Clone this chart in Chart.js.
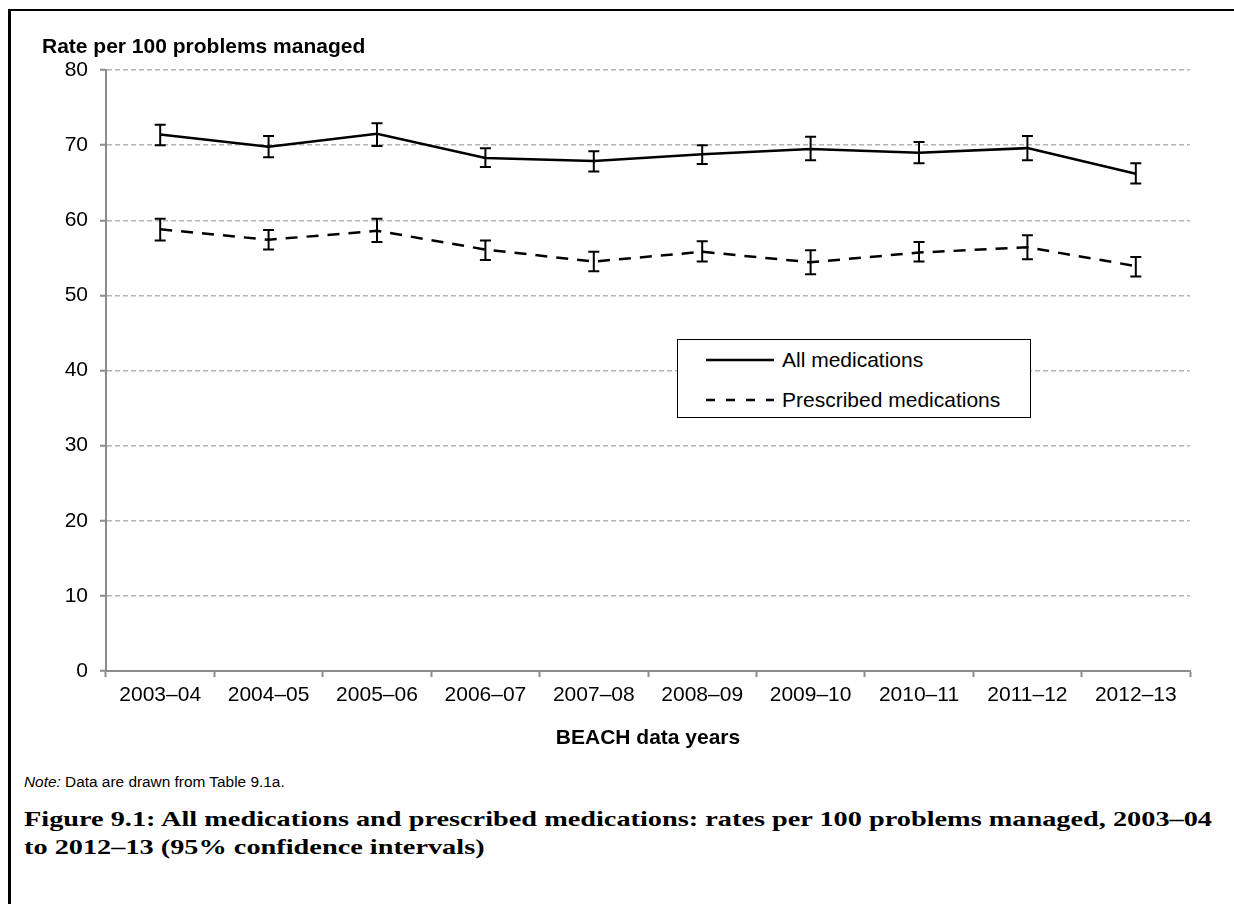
<!DOCTYPE html>
<html>
<head>
<meta charset="utf-8">
<script src="https://cdn.jsdelivr.net/npm/chart.js@4/dist/chart.umd.min.js"></script>
<style>
  html, body { margin: 0; padding: 0; background: #fff; }
  body { width: 1234px; height: 904px; position: relative; overflow: hidden; font-family: "Liberation Sans", Arial, sans-serif; }
  #frame { position: absolute; left: 8px; top: 9px; width: 1300px; height: 1000px; border-left: 3px solid #000; border-top: 2px solid #000; box-sizing: border-box; }
  #wrap { position: absolute; left: 0; top: 0; width: 1234px; height: 770px; }
  #ytitle { position: absolute; left: 42px; top: 35px; font-weight: bold; font-size: 21px; line-height: 21px; color: #000; white-space: nowrap; }
  #legend { position: absolute; left: 677px; top: 339px; width: 354px; height: 79px; border: 1.5px solid #000; box-sizing: border-box; background: #fff; }
  .lrow { position: absolute; left: 0; height: 30px; display: flex; align-items: center; font-size: 21px; color: #000; white-space: nowrap; }
  .lrow svg { margin-left: 28px; margin-right: 8px; }
  #note { position: absolute; left: 24px; top: 774px; font-size: 15.4px; line-height: 15px; color: #000; white-space: nowrap; }
  .cap { position: absolute; left: 24px; font-family: "Liberation Serif", "DejaVu Serif", serif; font-weight: bold; font-size: 22px; line-height: 28px; color: #000; white-space: nowrap; transform-origin: 0 0; }
</style>
</head>
<body>
<div id="frame"></div>
<div id="wrap"><canvas id="c" width="1234" height="770"></canvas></div>
<div id="ytitle">Rate per 100 problems managed</div>
<div id="legend"></div>
<div id="note"><i>Note:</i> Data are drawn from Table 9.1a.</div>
<div class="cap" id="cap1" style="top:805px">Figure 9.1: All medications and prescribed medications: rates per 100 problems managed, 2003–04</div>
<div class="cap" id="cap2" style="top:833px">to 2012–13 (95% confidence intervals)</div>
<script>
const years = ['2003–04','2004–05','2005–06','2006–07','2007–08','2008–09','2009–10','2010–11','2011–12','2012–13'];
const allMedications = [71.4, 69.8, 71.5, 68.3, 67.9, 68.8, 69.5, 69.0, 69.6, 66.2];
const allLower       = [70.0, 68.4, 69.9, 67.1, 66.5, 67.5, 68.0, 67.6, 68.0, 64.9];
const allUpper       = [72.7, 71.2, 72.9, 69.6, 69.2, 70.0, 71.1, 70.4, 71.2, 67.6];
const prescribed     = [58.8, 57.4, 58.6, 56.1, 54.5, 55.8, 54.4, 55.7, 56.4, 53.9];
const prescLower     = [57.3, 56.1, 57.1, 54.7, 53.2, 54.5, 52.8, 54.5, 54.8, 52.5];
const prescUpper     = [60.2, 58.7, 60.2, 57.3, 55.8, 57.2, 56.0, 57.1, 58.0, 55.1];
const seriesLabels   = ['All medications', 'Prescribed medications'];
const yTicks = [0, 10, 20, 30, 40, 50, 60, 70, 80];

const FONT = '"Liberation Sans", Arial, sans-serif';

const errorBars = {
  id: 'errorBars',
  afterDatasetsDraw(chart) {
    const {ctx, scales: {x, y}} = chart;
    ctx.save();
    ctx.strokeStyle = '#000';
    ctx.lineWidth = 2;
    ctx.setLineDash([]);
    chart.data.datasets.forEach(ds => {
      ds.lower.forEach((lo, i) => {
        const px = x.getPixelForValue(i);
        const yl = y.getPixelForValue(lo);
        const yh = y.getPixelForValue(ds.upper[i]);
        const cw = 5.5;
        ctx.beginPath();
        ctx.moveTo(px, yl); ctx.lineTo(px, yh);
        ctx.moveTo(px - cw, yl); ctx.lineTo(px + cw, yl);
        ctx.moveTo(px - cw, yh); ctx.lineTo(px + cw, yh);
        ctx.stroke();
      });
    });
    ctx.restore();
  }
};

const chart = new Chart(document.getElementById('c'), {
  type: 'line',
  data: {
    labels: years,
    datasets: [
      { label: seriesLabels[0], data: allMedications, lower: allLower, upper: allUpper,
        borderColor: '#000', borderWidth: 2.5, pointRadius: 0, tension: 0, fill: false },
      { label: seriesLabels[1], data: prescribed, lower: prescLower, upper: prescUpper,
        borderColor: '#000', borderWidth: 2.5, borderDash: [12, 9], pointRadius: 0, tension: 0, fill: false }
    ]
  },
  options: {
    responsive: false,
    animation: false,
    events: [],
    layout: { padding: { left: 0, top: 70, right: 44, bottom: 19 } },
    plugins: { legend: { display: false }, tooltip: { enabled: false }, title: { display: false } },
    scales: {
      x: {
        type: 'category',
        offset: true,
        grid: { offset: true, drawOnChartArea: false, tickLength: 6, tickColor: '#8c8c8c', tickWidth: 2 },
        border: { display: true, color: '#8c8c8c', width: 2 },
        ticks: { color: '#000', font: { family: FONT, size: 21 }, padding: 6, maxRotation: 0, autoSkip: false },
        title: { display: true, text: 'BEACH data years', color: '#000', font: { family: FONT, size: 21, weight: 'bold' }, padding: { top: 0, bottom: 0 } },
        afterFit(s) { s.height = 80; }
      },
      y: {
        min: 0, max: 80,
        afterBuildTicks(s) { s.ticks = yTicks.map(v => ({ value: v })); },
        grid: { color: '#b4b4b4', lineWidth: 1.5, tickLength: 6, tickColor: '#8c8c8c', tickWidth: 2 },
        border: { display: true, color: '#8c8c8c', width: 2, dash: [5, 3] },
        ticks: { color: '#000', font: { family: FONT, size: 21 }, padding: 12 },
        afterFit(s) { s.width = 106; }
      }
    }
  },
  plugins: [errorBars]
});

// legend built from the dataset labels
const legend = document.getElementById('legend');
chart.data.datasets.forEach((ds, i) => {
  const row = document.createElement('div');
  row.className = 'lrow';
  row.style.top = (i === 0 ? 5 : 45) + 'px';
  const dash = ds.borderDash ? 'stroke-dasharray="9 11"' : '';
  row.innerHTML = '<svg width="68" height="6"><line x1="0" y1="3" x2="68" y2="3" stroke="#000" stroke-width="2.5" ' + dash + '/></svg><span>' + ds.label + '</span>';
  legend.appendChild(row);
});

// fit caption line 1 to the reference width
const cap1 = document.getElementById('cap1');
const cap2 = document.getElementById('cap2');
const w1 = cap1.getBoundingClientRect().width;
const k = 1188 / w1;
cap1.style.transform = 'scaleX(' + k + ')';
cap2.style.transform = 'scaleX(' + k + ')';
</script>
</body>
</html>
